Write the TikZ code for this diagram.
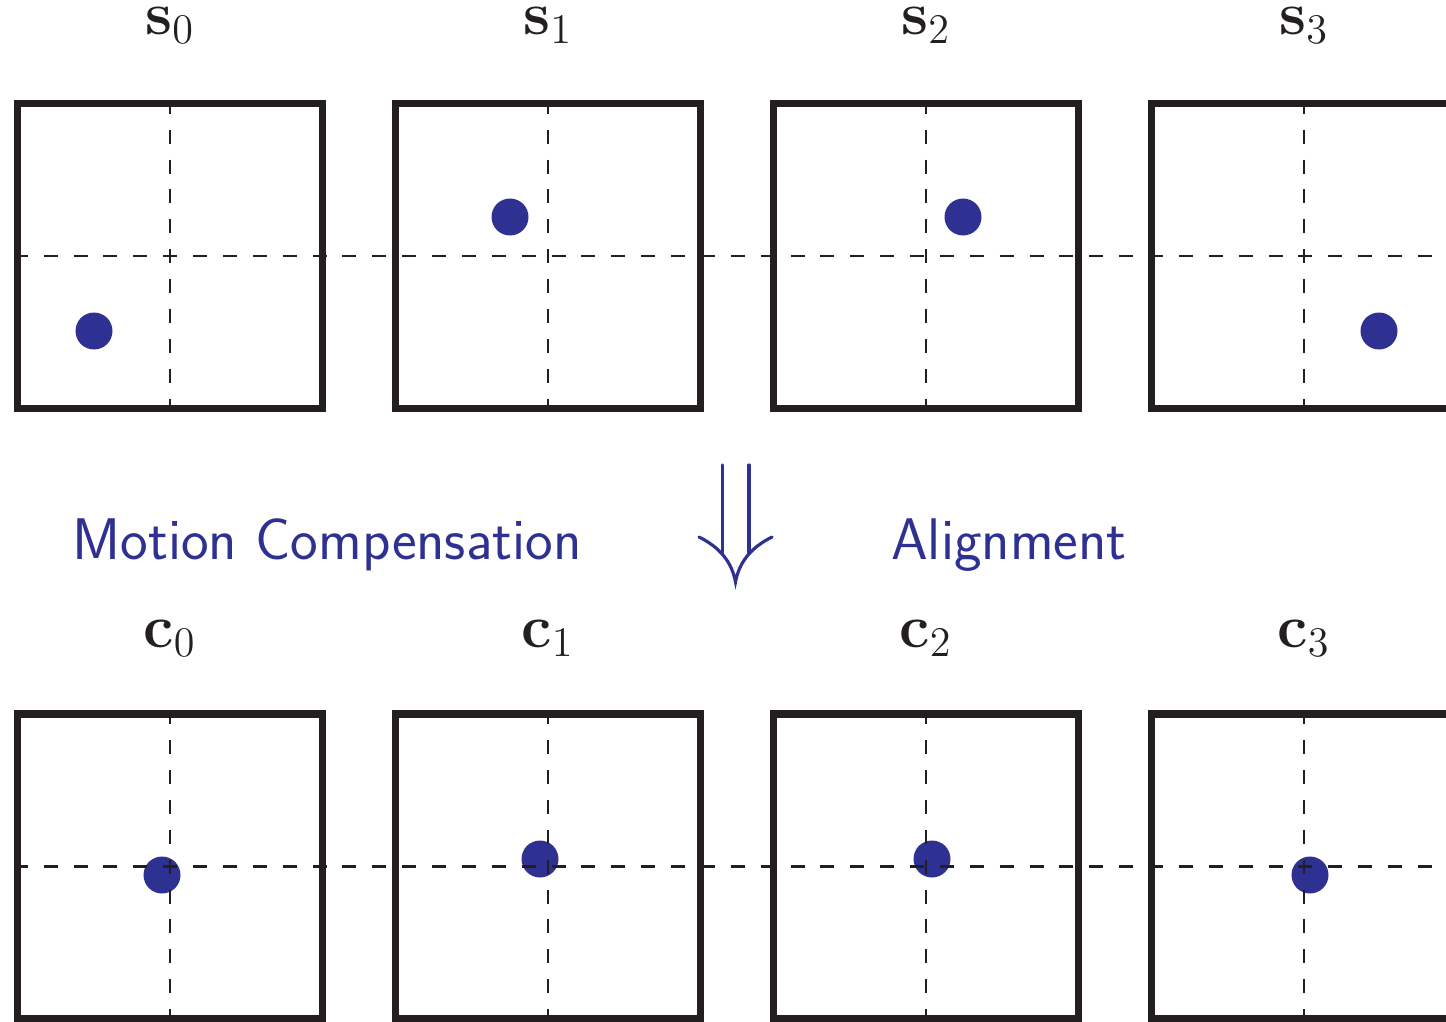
\documentclass[tikz,border=0pt]{standalone}
\usepackage{amsmath, amssymb, bm}
\usepackage{tikz}
\usetikzlibrary{arrows.meta, positioning, calc}
\definecolor{MCblue}{RGB}{46, 49, 146}
\definecolor{MCblack}{RGB}{35, 31, 32}

\begin{document}
\begin{tikzpicture}[
    frame/.style={
        draw=MCblack,
        line width=2.1pt,
        minimum size=3.05cm,
        inner sep=0pt
    },
    grid/.style={draw=MCblack, line width=0.75pt, dash pattern=on 4pt off 4.5pt},
    blob/.style={circle, fill=MCblue, minimum size=0.37cm, inner sep=0pt},
    lab/.style={font=\LARGE, text=MCblack, inner sep=0pt},
    caption/.style={font=\fontsize{16.7}{20}\selectfont\sffamily, text=MCblue},
    shaft/.style={draw=MCblue, line width=0.9pt, line cap=round},
    barb/.style={draw=MCblue, line width=0.9pt, line cap=round, line join=miter}
]
\useasboundingbox (0,0) rectangle (14.46,10.21);

% top row
\node[frame] (s0) at (1.70,7.65) {};
\node[frame] (s1) at (5.48,7.65) {};
\node[frame] (s2) at (9.26,7.65) {};
\node[frame] (s3) at (13.04,7.65) {};

\node[lab, above=0.555cm of s0] (s0lab) {$\mathbf{s}_0$};
\node[lab, above=0.555cm of s1] (s1lab) {$\mathbf{s}_1$};
\node[lab, above=0.555cm of s2] (s2lab) {$\mathbf{s}_2$};
\node[lab, above=0.555cm of s3] (s3lab) {$\mathbf{s}_3$};

\node[blob] (s0dot) at ($(s0)+(-0.76,-0.75)$) {};
\node[blob] (s1dot) at ($(s1)+(-0.38,0.39)$) {};
\node[blob] (s2dot) at ($(s2)+(0.37,0.39)$) {};
\node[blob] (s3dot) at ($(s3)+(0.75,-0.75)$) {};

\draw[grid] (s0.west) -- (s3.east);
\draw[grid] (s0.north) -- (s0.south);
\draw[grid] (s1.north) -- (s1.south);
\draw[grid] (s2.north) -- (s2.south);
\draw[grid] (s3.north) -- (s3.south);

% bottom row
\node[frame] (c0) at (1.70,1.545) {};
\node[frame] (c1) at (5.48,1.545) {};
\node[frame] (c2) at (9.26,1.545) {};
\node[frame] (c3) at (13.04,1.545) {};

\node[lab, above=0.535cm of c0] (c0lab) {$\mathbf{c}_0$};
\node[lab, above=0.535cm of c1] (c1lab) {$\mathbf{c}_1$};
\node[lab, above=0.535cm of c2] (c2lab) {$\mathbf{c}_2$};
\node[lab, above=0.535cm of c3] (c3lab) {$\mathbf{c}_3$};

\node[blob] (c0dot) at ($(c0)+(-0.08,-0.085)$) {};
\node[blob] (c1dot) at ($(c1)+(-0.08,0.075)$) {};
\node[blob] (c2dot) at ($(c2)+(0.06,0.075)$) {};
\node[blob] (c3dot) at ($(c3)+(0.06,-0.085)$) {};

\draw[grid] (c0.west) -- (c3.east);
\draw[grid] (c0.north) -- (c0.south);
\draw[grid] (c1.north) -- (c1.south);
\draw[grid] (c2.north) -- (c2.south);
\draw[grid] (c3.north) -- (c3.south);

% middle: double arrow
\coordinate (lefttop) at (7.225,5.56);
\coordinate (leftend) at (7.225,4.68);
\coordinate (righttop) at (7.49,5.56);
\coordinate (rightend) at (7.49,4.68);
\coordinate (barbL) at (6.99,4.84);
\coordinate (barbR) at (7.72,4.84);
\coordinate (arrtip) at (7.355,4.39);
\draw[shaft] (lefttop) -- (leftend);
\draw[shaft] (righttop) -- (rightend);
\draw[barb] (barbL) .. controls (7.21,4.73) and (7.32,4.58) .. (arrtip)
    .. controls (7.39,4.58) and (7.50,4.73) .. (barbR);

\node[caption] (motion) at (3.27,4.76) {Motion Compensation};
\node[caption] (align) at (10.09,4.76) {Alignment};

\end{tikzpicture}
\end{document}
